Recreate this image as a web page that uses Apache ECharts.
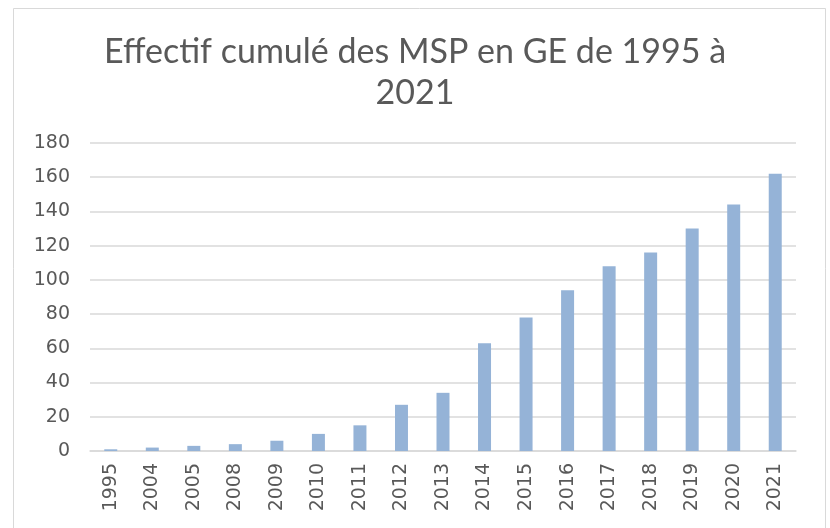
<!DOCTYPE html>
<html>
<head>
<meta charset="utf-8">
<script src="https://cdn.jsdelivr.net/npm/echarts@6/dist/echarts.min.js"></script>
<style>html,body{margin:0;padding:0;background:#fff}#c{width:830px;height:528px}</style>
</head>
<body>
<div id="c"></div>
<script>
const categories = ['1995','2004','2005','2008','2009','2010','2011','2012','2013','2014','2015','2016','2017','2018','2019','2020','2021'];
const values = [1,2,3,4,6,10,15,27,34,63,78,94,108,116,130,144,162];
const titleText = 'Effectif cumulé des MSP en GE de 1995 à\n2021';

const chart = echarts.init(document.getElementById('c'));
chart.setOption({
  animation: false,
  backgroundColor: '#fff',
  graphic: [{
    type: 'rect', shape: {x: 13.5, y: 8.5, width: 812, height: 530},
    style: {fill: 'none', stroke: '#d9d9d9', lineWidth: 1}, silent: true
  }],
  title: {
    text: titleText, left: 'center', top: 27,
    textStyle: {fontFamily: 'Lato, "DejaVu Sans", sans-serif', fontWeight: 'normal', fontSize: 34, color: '#595959', lineHeight: 41}
  },
  grid: {left: 90, right: 34, top: 143, bottom: 77, containLabel: false},
  xAxis: {
    type: 'category', data: categories,
    axisLine: {lineStyle: {color: '#d9d9d9', width: 1.5}},
    axisTick: {show: false},
    axisLabel: {rotate: 90, color: '#595959', fontSize: 19, fontFamily: '"DejaVu Sans", sans-serif', margin: 12, interval: 0}
  },
  yAxis: {
    type: 'value', min: 0, max: 180, interval: 20,
    axisLine: {show: false}, axisTick: {show: false},
    splitLine: {lineStyle: {color: '#d9d9d9', width: 1.5}},
    axisLabel: {color: '#595959', fontSize: 19, fontFamily: '"DejaVu Sans", sans-serif', margin: 20}
  },
  series: [{
    type: 'bar', data: values, barWidth: 13,
    itemStyle: {color: '#95b3d7'}
  }]
});
</script>
</body>
</html>
